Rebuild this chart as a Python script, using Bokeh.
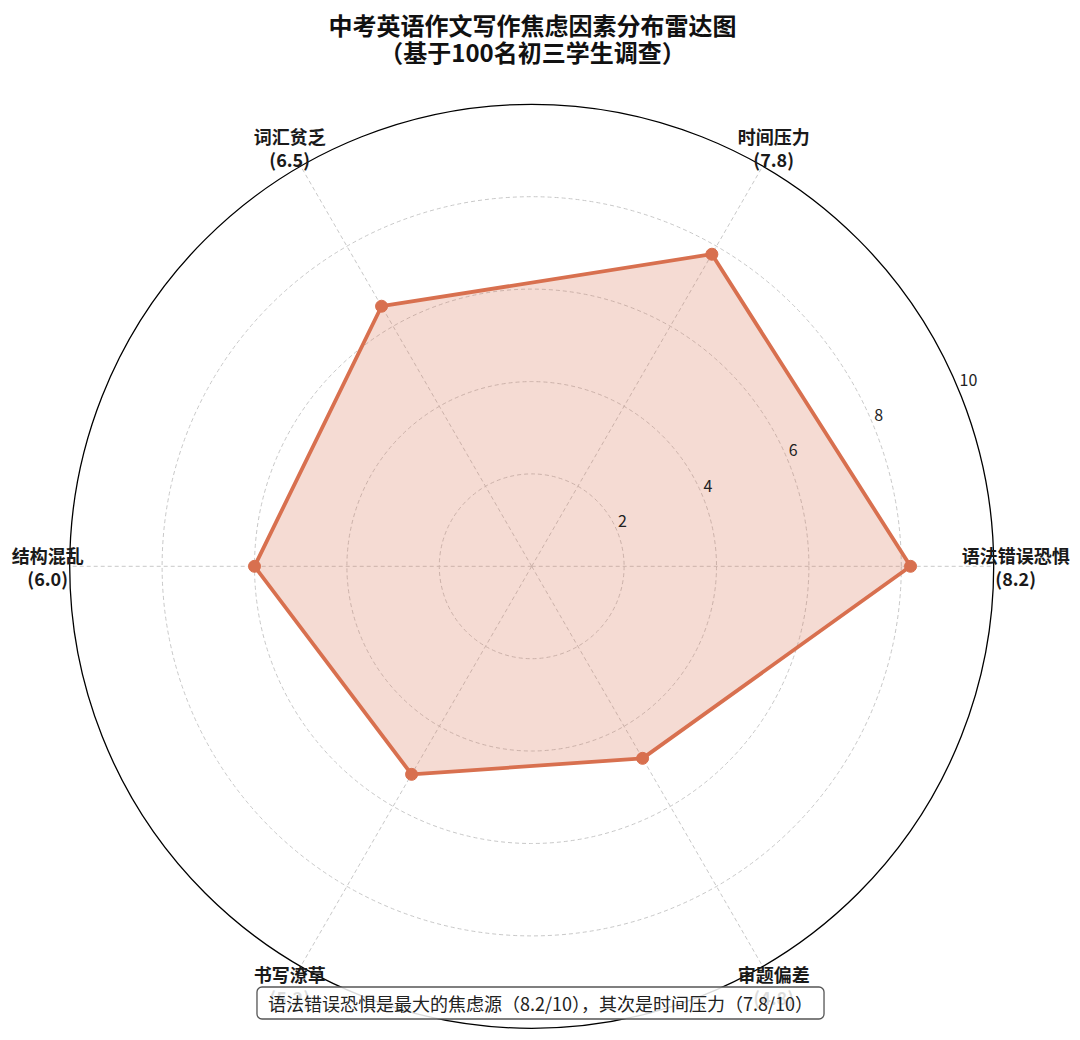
import math
from bokeh.plotting import figure
from bokeh.models import Range1d, Label
from bokeh.core.properties import value
from bokeh.embed import file_html
from bokeh.resources import INLINE

# ---- data ----
categories = ["语法错误恐惧", "时间压力", "词汇贫乏", "结构混乱", "书写潦草", "审题偏差"]
scores = [8.2, 7.8, 6.5, 6.0, 5.2, 4.8]
r_ticks = [2, 4, 6, 8, 10]
title_lines = ["中考英语作文写作焦虑因素分布雷达图", "（基于100名初三学生调查）"]
note_text = "语法错误恐惧是最大的焦虑源（8.2/10），其次是时间压力（7.8/10）"

# ---- layout ----
W, H = 1080, 1040
PX = 46.2              # pixels per unit of score
CX, CY = 531.2, 565.8  # polar centre within the frame (from top-left)
RMAX = 10
FONT = "Noto Sans CJK SC"
COLOR = "#D8704F"

p = figure(width=W, height=H, output_backend="svg", toolbar_location=None,
           title=None, min_border=0, x_axis_type=None, y_axis_type=None,
           x_range=Range1d(-CX / PX, (W - CX) / PX),
           y_range=Range1d(-(H - CY) / PX, CY / PX))
p.outline_line_color = None
p.grid.visible = False
p.background_fill_color = "white"
p.border_fill_color = "white"

n = len(categories)
angles = [2 * math.pi * i / n for i in range(n)]

# grid circles
p.circle(x=[0] * 4, y=[0] * 4, radius=r_ticks[:-1], fill_color=None,
         line_color="#c8c8c8", line_dash="4 3", line_width=1)
# spokes
p.segment(x0=[0] * n, y0=[0] * n,
          x1=[RMAX * math.cos(a) for a in angles],
          y1=[RMAX * math.sin(a) for a in angles],
          line_color="#c8c8c8", line_dash="4 3", line_width=1)
# outer circle
p.circle(x=[0], y=[0], radius=[RMAX], fill_color=None, line_color="black", line_width=1.3)

# data polygon
xs = [s * math.cos(a) for s, a in zip(scores, angles)]
ys = [s * math.sin(a) for s, a in zip(scores, angles)]
p.patch(xs + [xs[0]], ys + [ys[0]], fill_color=COLOR, fill_alpha=0.25,
        line_color=COLOR, line_width=3.8, line_join="round")
p.scatter(xs, ys, size=12, fill_color=COLOR, line_color=COLOR)

# radial tick labels at 22.5 degrees
ta = math.radians(22.5)
p.text(x=[r * math.cos(ta) for r in r_ticks], y=[r * math.sin(ta) for r in r_ticks],
       text=[str(r) for r in r_ticks], text_font=value(FONT), text_font_size="16px",
       text_color="#222222", text_align="left", text_baseline="middle",
       x_offset=1, y_offset=-10)

# category labels
RL = 484 / PX
dy = 11.5 / PX
lx = [RL * math.cos(a) for a in angles]
ly = [RL * math.sin(a) for a in angles]
p.text(x=lx, y=[v + dy for v in ly], text=categories, text_font=value(FONT),
       text_font_size="18px", text_font_style="bold", text_color="#1a1a1a",
       text_align="center", text_baseline="middle")
p.text(x=lx, y=[v - dy for v in ly], text=[f"({s:.1f})" for s in scores],
       text_font=value(FONT), text_font_size="18px", text_font_style="bold",
       text_color="#1a1a1a", text_align="center", text_baseline="middle")

# title
for i, t in enumerate(title_lines):
    p.add_layout(Label(x=532, y=H - 24 - 27 * i, x_units="screen", y_units="screen",
                       text=t, text_font=FONT, text_font_size="24px",
                       text_font_style="bold", text_color="#111111",
                       text_align="center", text_baseline="middle"))

# annotation box
p.add_layout(Label(x=540, y=H - 1002.5, x_units="screen", y_units="screen",
                   text=note_text, text_font=FONT, text_font_size="18px",
                   text_color="#222222", text_align="center", text_baseline="middle",
                   background_fill_color="white", background_fill_alpha=0.85,
                   border_line_color="#555555", border_line_width=1.3,
                   padding=(11, 3), border_radius=5))

open("out.html", "w").write(file_html(p, INLINE))
